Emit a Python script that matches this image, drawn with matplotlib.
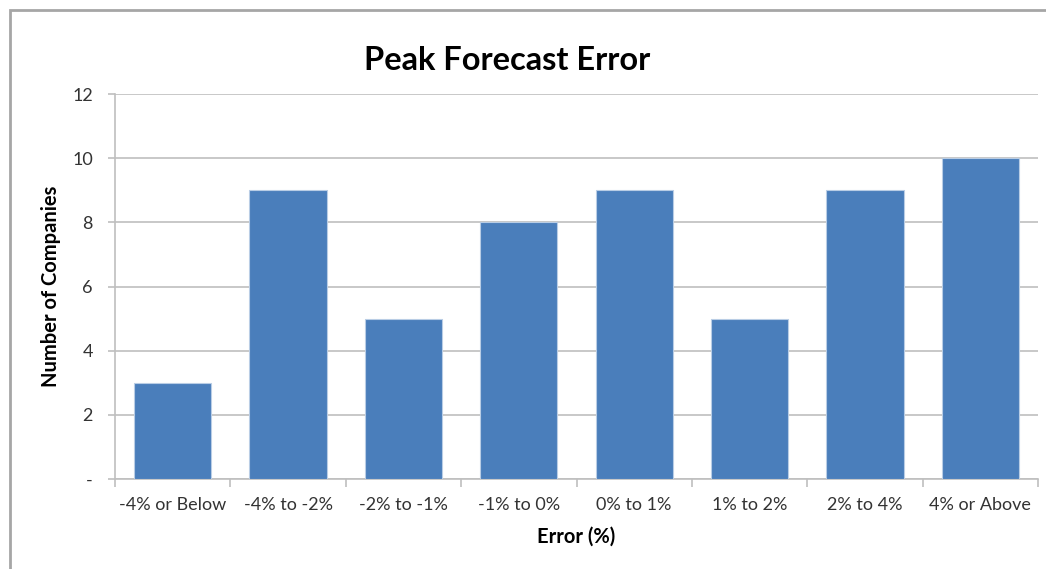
import matplotlib.pyplot as plt
from matplotlib.patches import Rectangle

categories = ['-4% or Below', '-4% to -2%', '-2% to -1%', '-1% to 0%',
              '0% to 1%', '1% to 2%', '2% to 4%', '4% or Above']
companies = [3, 9, 5, 8, 9, 5, 9, 10]
yticks = [0, 2, 4, 6, 8, 10, 12]
ytick_labels = ['-', '2', '4', '6', '8', '10', '12']

W, H = 1046, 569
plt.rcParams['font.family'] = ['Lato', 'DejaVu Sans']

fig = plt.figure(figsize=(W / 100, H / 100), dpi=100)
fig.patch.set_facecolor('white')

# chart frame, runs off the right and bottom edges
fig.patches.append(Rectangle((10 / W, -0.05), 1.1, 1 - 10 / H + 0.05,
                             transform=fig.transFigure, fill=False,
                             edgecolor='#a6a6a6', linewidth=2))

ax = fig.add_axes([115 / W, 1 - 479 / H, (1038 - 115) / W, (479 - 94) / H])
x = range(len(categories))
ax.bar(x, companies, width=0.67, color='#4a7ebb', edgecolor='#b9cde5',
       linewidth=0.8, zorder=3)

ax.set_xlim(-0.5, len(categories) - 0.5)
ax.set_ylim(0, 12)
ax.set_yticks(yticks)
ax.set_yticklabels(ytick_labels)
ax.set_xticks(list(x))
ax.set_xticklabels(categories)
ax.set_xticks([i + 0.5 for i in range(-1, len(categories))], minor=True)

ax.grid(axis='y', color='#bfbfbf', linewidth=1.2, zorder=0)
for side in ['top', 'right']:
    ax.spines[side].set_visible(False)
for side in ['left', 'bottom']:
    ax.spines[side].set_color('#bfbfbf')
    ax.spines[side].set_linewidth(1.2)

ax.tick_params(axis='y', length=5, color='#bfbfbf', width=1.2,
               labelsize=13, labelcolor='#333333', pad=11)
ax.tick_params(axis='x', which='major', length=0, labelsize=13,
               labelcolor='#333333', pad=13)
ax.tick_params(axis='x', which='minor', length=6, color='#bfbfbf', width=1.2)

ax.set_ylabel('Number of Companies', fontsize=14.5, fontweight='bold',
              labelpad=8)
ax.set_xlabel('Error (%)', fontsize=14.5, fontweight='bold', labelpad=10)

fig.text(507 / W, 1 - 60 / H, 'Peak Forecast Error', fontsize=23.5,
         fontweight='bold', ha='center', va='center')

fig.savefig('out.png', dpi=100)
